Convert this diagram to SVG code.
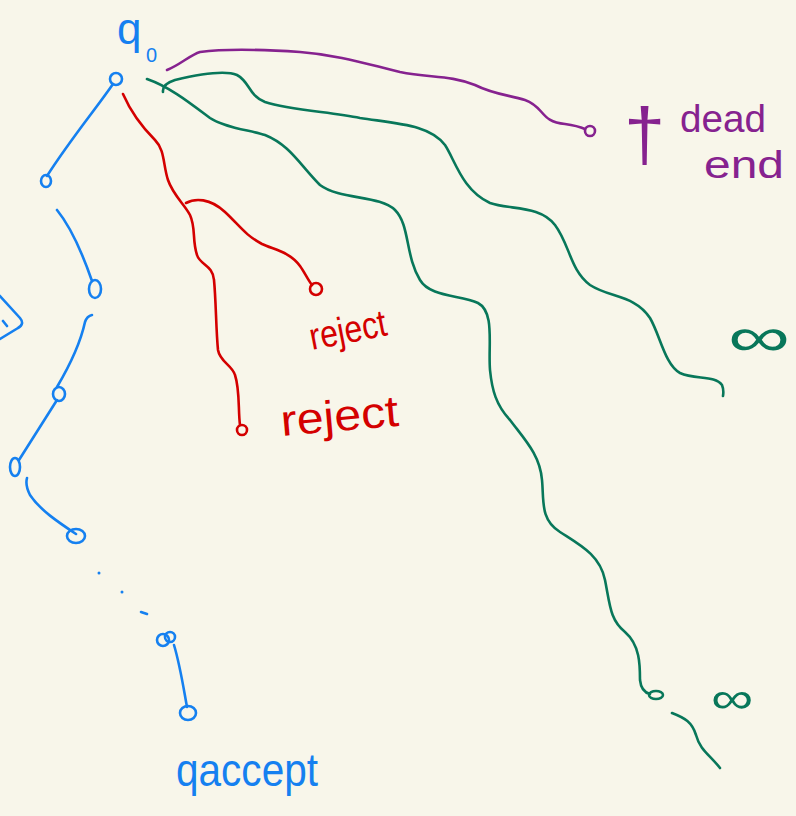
<svg xmlns="http://www.w3.org/2000/svg" width="796" height="816" viewBox="0 0 796 816">
<style>
.b{stroke:#1580f0}.r{stroke:#d40000}.p{stroke:#86228f}.g{stroke:#08775a}
.e{fill:none;stroke-width:2.6;stroke-linecap:round;stroke-linejoin:round}
.n{fill:none;stroke-width:2.6}
.t{font-family:"Liberation Sans","DejaVu Sans",sans-serif}
.tb{fill:#1580f0}.tr{fill:#d40000}.tp{fill:#86228f}.tg{fill:#08775a}
</style>
<rect width="796" height="816" fill="#f8f6ea"/>
<g id="connectors">
  <path class="e b" d="M113,84 C95,110 70,140 47,176"/>
  <path class="e b" d="M57,210 Q75,232 92,281"/>
  <path class="e b" d="M92,315 Q87,316 85,322 C80,345 70,365 57,387"/>
  <path class="e b" d="M57,400 L19,460"/>
  <path class="e b" d="M27,478 Q25,485 30,495 C40,510 58,522 76,534"/>
  <path class="e b" d="M174,645 C180,665 183,685 187,707"/>
  <path class="e b" d="M0,296 L20,318 Q25,324 18,328 L0,339 M3,321 L7,326"/>
  <path class="e r" d="M123,94 C130,110 140,125 155,140 C165,150 163,165 168,180 C173,195 185,205 190,215 C196,228 192,240 197,255 C200,265 213,265 214,280 C216,300 216,330 218,350 C220,362 232,365 235,375 C240,390 238,410 240,425"/>
  <path class="e r" d="M186,203 C195,198 210,198 225,212 C240,226 245,235 262,244 C275,250 290,252 300,266 C305,273 308,280 312,285"/>
  <path class="e p" d="M167,70 C180,65 190,55 200,52 C230,48 270,50 300,52 C340,55 370,65 400,72 C430,78 450,75 475,85 C495,95 510,95 525,100 C545,107 540,122 565,124 C572,125 578,126 585,129"/>
  <path class="e g" d="M147,79 C170,87 190,103 210,118 C225,128 250,130 265,135 C290,145 300,165 320,185 C340,200 380,195 395,210 C410,225 405,255 420,280 C430,297 460,295 478,303 C495,312 488,345 490,370 C492,390 496,405 510,420 C525,440 540,455 542,480 C544,500 540,520 560,532 C580,545 600,555 605,580 C610,605 610,620 625,632 C640,645 640,665 640,680 C641,690 646,693 650,694"/>
  <path class="e g" d="M672,713 C685,718 692,722 696,735 C700,750 710,755 720,768"/>
  <path class="e g" d="M163,92 Q162,84 175,80 C200,74 225,70 237,75 C250,82 248,95 265,102 C290,110 330,112 360,118 C400,124 430,125 445,145 C455,160 462,190 490,203 C510,210 540,205 555,225 C570,245 570,270 590,285 C610,298 635,295 650,318 C660,335 665,365 680,373 C695,380 715,375 722,385 Q724,390 723,396"/>
</g>
<g id="q0">
  <ellipse class="n b" cx="116" cy="79" rx="6" ry="6"/>
  <text class="t tb" x="117" y="44" font-size="44">q</text>
  <text class="t tb" x="146" y="62" font-size="20">0</text>
</g>
<g id="n1"><ellipse class="n b" cx="46" cy="181" rx="5" ry="6"/></g>
<g id="n2"><ellipse class="n b" cx="95" cy="289" rx="6" ry="9"/></g>
<g id="n3"><ellipse class="n b" cx="59" cy="394" rx="6" ry="7"/></g>
<g id="n4"><ellipse class="n b" cx="15" cy="467" rx="5" ry="9"/></g>
<g id="n5"><ellipse class="n b" cx="76" cy="536" rx="9" ry="7"/></g>
<g id="dots">
  <circle cx="99" cy="573" r="1.5" fill="#1580f0"/>
  <circle cx="122" cy="592" r="1.5" fill="#1580f0"/>
  <path class="e b" d="M141,612 L147,614"/>
</g>
<g id="n6">
  <ellipse class="n b" cx="163" cy="640" rx="6" ry="6"/>
  <ellipse class="n b" cx="170" cy="637" rx="5" ry="5"/>
</g>
<g id="qaccept">
  <ellipse class="n b" cx="188" cy="713" rx="8" ry="7"/>
  <text class="t tb" x="176" y="786" font-size="46" textLength="142" lengthAdjust="spacingAndGlyphs">qaccept</text>
</g>
<g id="reject1">
  <ellipse class="n r" cx="316" cy="289" rx="6" ry="6"/>
  <text class="t tr" x="312" y="350" font-size="38" textLength="78" lengthAdjust="spacingAndGlyphs" transform="rotate(-11 312 350)">reject</text>
</g>
<g id="reject2">
  <ellipse class="n r" cx="242" cy="430" rx="5" ry="5"/>
  <text class="t tr" x="282" y="436" font-size="44" textLength="118" lengthAdjust="spacingAndGlyphs" transform="rotate(-5 282 436)">reject</text>
</g>
<g id="deadend">
  <ellipse class="n p" cx="590" cy="131" rx="5" ry="5"/>
  <text class="t tp" x="624" y="160" font-size="74">†</text>
  <text class="t tp" x="680" y="132" font-size="38" textLength="86" lengthAdjust="spacingAndGlyphs">dead</text>
  <text class="t tp" x="704" y="178" font-size="38" textLength="80" lengthAdjust="spacingAndGlyphs">end</text>
</g>
<g id="inf1">
  <text class="t tg" x="728" y="356" font-size="56" textLength="62" lengthAdjust="spacingAndGlyphs">∞</text>
</g>
<g id="inf2">
  <ellipse class="n g" cx="656" cy="695" rx="7" ry="4"/>
  <text class="t tg" x="711" y="713" font-size="44" textLength="42" lengthAdjust="spacingAndGlyphs">∞</text>
</g>
</svg>
